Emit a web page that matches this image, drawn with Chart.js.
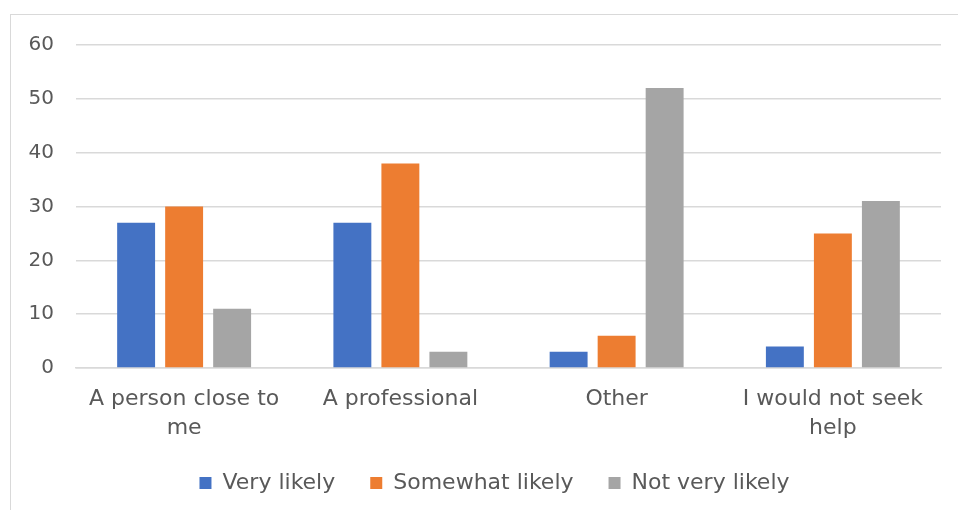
<!DOCTYPE html>
<html>
<head>
<meta charset="utf-8">
<script src="https://cdn.jsdelivr.net/npm/chart.js@4.4.0/dist/chart.umd.min.js"></script>
<style>
  html, body { margin: 0; padding: 0; background: #fff; overflow: hidden; }
  .wrap { position: relative; width: 958px; height: 510px; overflow: hidden; }
  .frame {
    position: absolute; left: 10px; top: 14px; width: 1000px; height: 600px;
    border-left: 1.5px solid #d9d9d9; border-top: 1.5px solid #d9d9d9;
  }
  canvas { position: absolute; left: 0; top: 0; }
</style>
</head>
<body>
<div class="wrap">
  <div class="frame"></div>
  <canvas id="chart" width="958" height="510"></canvas>
</div>
<script>
/* --- Data --- */
const categories = [
  ['A person close to', 'me'],
  'A professional',
  'Other',
  ['I would not seek', 'help']
];
const veryLikely = [27, 27, 3, 4];
const somewhatLikely = [30, 38, 6, 25];
const notVeryLikely = [11, 3, 52, 31];
const yTicks = [0, 10, 20, 30, 40, 50, 60];

/* --- Stil --- */
const TEXT = '#595959';
const GRID = '#d9d9d9';
const FONT = "'DejaVu Sans', sans-serif";
const LEGEND_DX = 24;
const LEGEND_DY = -6;

Chart.defaults.font.family = FONT;
Chart.defaults.color = TEXT;

// flytta legenden lite (ramen fortsätter utanför bilden)
const legendShift = {
  id: 'legendShift',
  afterLayout(chart) {
    const lg = chart.legend;
    if (!lg) return;
    lg.left += LEGEND_DX;
    lg.right += LEGEND_DX;
    lg.top += LEGEND_DY;
    lg.bottom += LEGEND_DY;
  }
};

const ctx = document.getElementById('chart').getContext('2d');

new Chart(ctx, {
  type: 'bar',
  data: {
    labels: categories,
    datasets: [
      { label: 'Very likely', data: veryLikely, backgroundColor: '#4472C4' },
      { label: 'Somewhat likely', data: somewhatLikely, backgroundColor: '#ED7D31' },
      { label: 'Not very likely', data: notVeryLikely, backgroundColor: '#A5A5A5' }
    ]
  },
  options: {
    responsive: false,
    animation: false,
    devicePixelRatio: 1,
    datasets: {
      bar: { categoryPercentage: 0.666, barPercentage: 0.79 }
    },
    layout: { padding: { left: 0, right: 17, top: 45, bottom: 0 } },
    plugins: {
      tooltip: { enabled: false },
      legend: {
        position: 'bottom',
        labels: {
          boxWidth: 12,
          boxHeight: 12,
          padding: 35,
          color: TEXT,
          font: { size: 22 }
        }
      }
    },
    scales: {
      x: {
        afterFit: scale => { scale.height = 75; },
        grid: { display: false, drawTicks: false },
        border: { color: GRID, width: 1.5 },
        ticks: {
          color: TEXT,
          font: { size: 22, lineHeight: 1.32 },
          padding: 17,
          maxRotation: 0,
          autoSkip: false
        }
      },
      y: {
        min: 0,
        max: 60,
        afterBuildTicks: scale => { scale.ticks = yTicks.map(v => ({ value: v })); },
        afterFit: scale => { scale.width = 76; },
        grid: { color: GRID, lineWidth: 1.5, drawTicks: false },
        border: { display: false },
        ticks: {
          color: TEXT,
          font: { size: 20 },
          padding: 22
        }
      }
    }
  },
  plugins: [legendShift]
});
</script>
</body>
</html>
